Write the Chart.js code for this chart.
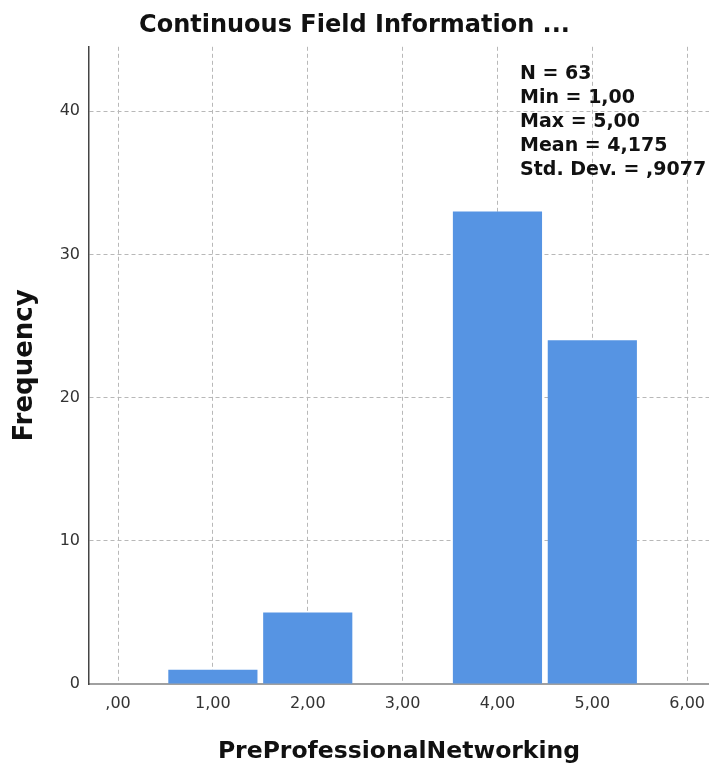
<!DOCTYPE html>
<html>
<head>
<meta charset="utf-8">
<script src="https://cdn.jsdelivr.net/npm/chart.js@4"></script>
<style>
  html, body { margin: 0; padding: 0; background: #fff; }
  #wrap { width: 709px; height: 770px; }
</style>
</head>
<body>
<div id="wrap"><canvas id="hist"></canvas></div>
<script>
const binCenters = [1, 2, 4, 5];
const frequencies = [1, 5, 33, 24];
const xTickValues = [0, 1, 2, 3, 4, 5, 6];
const yTickValues = [0, 10, 20, 30, 40];
const statsLines = ["N = 63", "Min = 1,00", "Max = 5,00", "Mean = 4,175", "Std. Dev. = ,9077"];

const FONT = "'DejaVu Sans', sans-serif";

// SPSS style decimal comma: 0 -> ",00", 1 -> "1,00"
function spssLabel(v) {
  if (v === 0) return ",00";
  return v.toFixed(2).replace(".", ",");
}

const statsBox = {
  id: "statsBox",
  afterDraw(chart) {
    const c = chart.ctx;
    const x = chart.scales.x.getPixelForValue(4.238);
    const y0 = chart.scales.y.getPixelForValue(42.6);
    c.save();
    c.fillStyle = "#111";
    c.font = "bold 19px " + FONT;
    c.textBaseline = "middle";
    statsLines.forEach((line, i) => c.fillText(line, x, y0 + i * 24));
    c.restore();
  }
};

const ctx = document.getElementById("hist").getContext("2d");

new Chart(ctx, {
  type: "bar",
  data: {
    datasets: [{
      label: "Frequency",
      data: binCenters.map((x, i) => ({ x: x, y: frequencies[i] })),
      backgroundColor: "#5694e3",
      borderWidth: 0,
      barPercentage: 0.94,
      categoryPercentage: 1.0
    }]
  },
  options: {
    responsive: true,
    maintainAspectRatio: false,
    animation: false,
    layout: { padding: 0 },
    plugins: {
      legend: { display: false },
      tooltip: { enabled: false },
      title: {
        display: true,
        text: "Continuous Field Information ...",
        color: "#111",
        font: { family: FONT, size: 24, weight: "bold" },
        padding: { top: 11, bottom: 7 }
      }
    },
    scales: {
      x: {
        type: "linear",
        min: -0.306,
        max: 6.23,
        offset: false,
        afterFit: (s) => { s.height = 86; s.paddingLeft = 0; s.paddingRight = 0; },
        afterBuildTicks: (s) => { s.ticks = xTickValues.map(v => ({ value: v })); },
        ticks: {
          color: "#333",
          font: { family: FONT, size: 16 },
          padding: 10,
          maxRotation: 0,
          callback: (v) => spssLabel(v)
        },
        grid: { color: "#b8b8b8", drawTicks: false, lineWidth: 1, offset: false },
        border: { color: "#a0a0a0", width: 2, dash: [4, 3] },
        title: {
          display: true,
          text: "PreProfessionalNetworking",
          color: "#111",
          font: { family: FONT, size: 23.5, weight: "bold" },
          padding: { top: 0, bottom: 4 }
        }
      },
      y: {
        min: 0,
        max: 44.5,
        afterFit: (s) => { s.width = 89; },
        afterBuildTicks: (s) => { s.ticks = yTickValues.map(v => ({ value: v })); },
        ticks: {
          color: "#333",
          font: { family: FONT, size: 16 },
          padding: 9
        },
        grid: { color: "#b8b8b8", drawTicks: false, lineWidth: 1 },
        border: { color: "#444", width: 1.5, dash: [4, 3] },
        title: {
          display: true,
          text: "Frequency",
          color: "#111",
          font: { family: FONT, size: 26, weight: "bold" },
          padding: { top: 10, bottom: 0 }
        }
      }
    }
  },
  plugins: [statsBox]
});
</script>
</body>
</html>
